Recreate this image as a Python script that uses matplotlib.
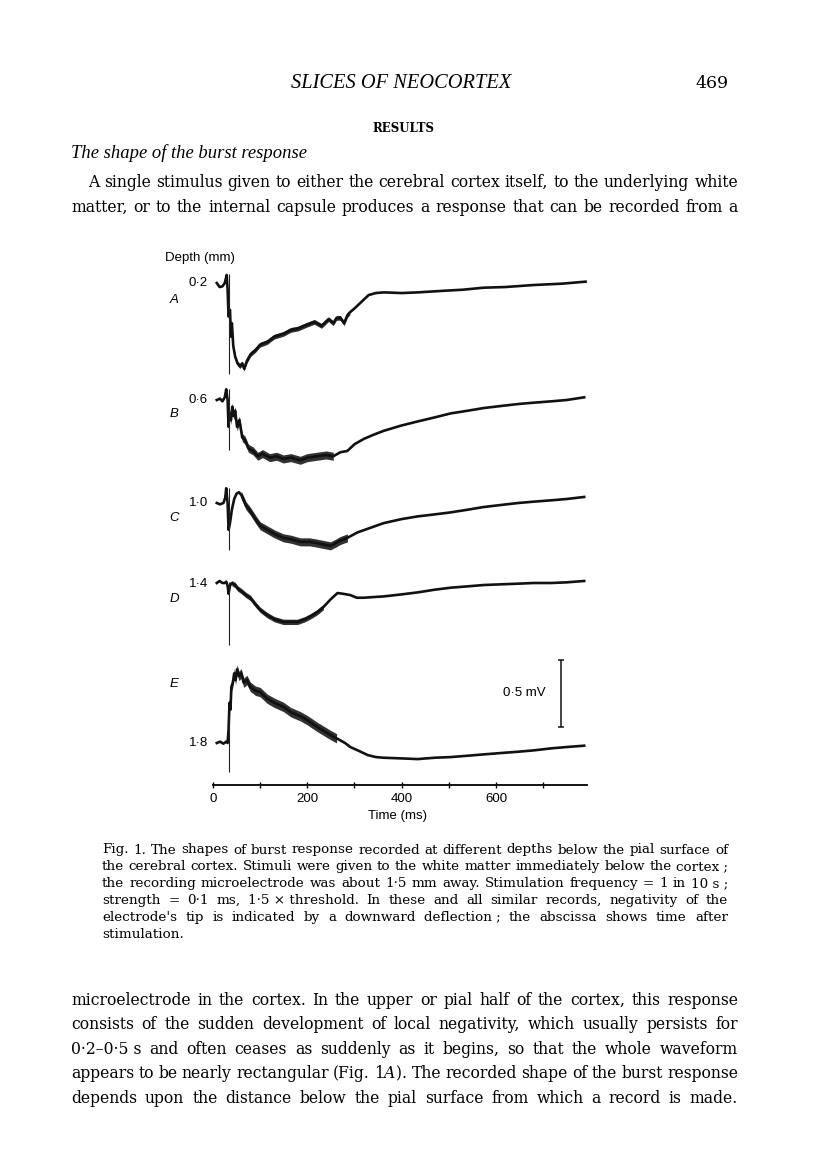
import numpy as np
import matplotlib
matplotlib.use("Agg")
import matplotlib.pyplot as plt

plt.rcParams['font.family'] = ['Liberation Sans', 'DejaVu Sans']
plt.rcParams['mathtext.fontset'] = 'custom'
plt.rcParams['mathtext.rm'] = 'DejaVu Serif'
plt.rcParams['mathtext.it'] = 'DejaVu Serif:italic'

# ---------------- data ----------------
depth_labels = ["0·2", "0·6", "1·0", "1·4", "1·8"]
trace_letters = ["A", "B", "C", "D", "E"]

t_A = [8, 14, 20, 25, 29, 31, 33, 36, 38, 40, 43, 47, 52, 57, 62, 66, 72, 80, 90, 100,
       115, 130, 149, 165, 180, 200, 215, 230, 245, 255, 262, 270, 278, 285, 290, 300,
       315, 330, 345, 362, 400, 434, 480, 530, 574, 620, 680, 740, 790]
v_A = [0.0, -0.03, -0.025, 0.0, 0.06, -0.05, -0.25, -0.2, -0.4, -0.3, -0.47, -0.55, -0.6,
       -0.62, -0.6, -0.64, -0.58, -0.53, -0.5, -0.46, -0.44, -0.4, -0.38, -0.35, -0.34,
       -0.31, -0.29, -0.32, -0.27, -0.3, -0.26, -0.26, -0.3, -0.24, -0.22, -0.19, -0.14,
       -0.09, -0.075, -0.07, -0.075, -0.07, -0.06, -0.05, -0.035, -0.03, -0.015, -0.005, 0.01]

t_B = [8, 15, 20, 25, 28, 31, 33, 35, 38, 41, 44, 47, 51, 56, 62, 68, 75, 85, 95, 105,
       120, 135, 149, 165, 185, 200, 220, 240, 255, 270, 285, 300, 320, 340, 362, 400,
       434, 470, 504, 540, 574, 610, 647, 680, 717, 750, 787]
v_B = [0.0, 0.01, -0.01, 0.02, 0.08, 0.0, -0.2, -0.1, -0.15, -0.05, -0.12, -0.08, -0.2,
       -0.15, -0.28, -0.3, -0.36, -0.38, -0.42, -0.4, -0.43, -0.42, -0.44, -0.43, -0.45,
       -0.43, -0.42, -0.41, -0.42, -0.39, -0.38, -0.33, -0.29, -0.26, -0.23, -0.19, -0.16,
       -0.13, -0.1, -0.08, -0.06, -0.045, -0.03, -0.02, -0.01, 0.0, 0.02]

t_C = [8, 15, 22, 26, 28, 31, 33, 36, 40, 45, 50, 55, 60, 65, 70, 79, 90, 100, 115, 130,
       149, 165, 185, 205, 221, 235, 249, 260, 270, 285, 306, 330, 362, 400, 434, 470,
       504, 540, 574, 610, 647, 680, 717, 750, 787]
v_C = [0.0, -0.01, 0.0, 0.04, 0.11, 0.0, -0.2, -0.15, -0.05, 0.03, 0.07, 0.08, 0.06,
       0.02, -0.02, -0.06, -0.12, -0.17, -0.2, -0.23, -0.26, -0.27, -0.29, -0.29, -0.3,
       -0.31, -0.32, -0.3, -0.28, -0.26, -0.22, -0.19, -0.15, -0.12, -0.1, -0.085, -0.07,
       -0.05, -0.03, -0.015, 0.0, 0.01, 0.02, 0.03, 0.045]

t_D = [8, 14, 20, 25, 28, 31, 33, 36, 40, 44, 47, 52, 60, 70, 79, 90, 100, 115, 130, 149,
       165, 179, 195, 206, 220, 234, 250, 264, 275, 291, 305, 319, 340, 362, 400, 434,
       470, 504, 540, 574, 610, 647, 680, 717, 750, 787]
v_D = [0.0, 0.015, 0.0, 0.0, 0.01, -0.02, -0.08, -0.02, 0.0, -0.01, -0.015, -0.04, -0.06,
       -0.09, -0.11, -0.16, -0.2, -0.24, -0.27, -0.29, -0.29, -0.29, -0.27, -0.25, -0.22,
       -0.18, -0.12, -0.075, -0.08, -0.09, -0.11, -0.11, -0.105, -0.1, -0.085, -0.07,
       -0.05, -0.035, -0.025, -0.015, -0.01, -0.005, 0.0, 0.0, 0.005, 0.015]

t_E = [8, 15, 22, 28, 31, 33, 35, 37, 39, 42, 45, 48, 51, 55, 60, 65, 72, 79, 90, 100,
       115, 130, 149, 165, 185, 200, 221, 235, 249, 262, 280, 291, 310, 328, 345, 362,
       400, 434, 470, 504, 540, 574, 610, 647, 680, 717, 750, 787]
v_E = [0.0, 0.01, -0.005, 0.01, 0.0, 0.1, 0.3, 0.25, 0.42, 0.45, 0.52, 0.47, 0.55, 0.5,
       0.52, 0.45, 0.47, 0.42, 0.39, 0.38, 0.33, 0.3, 0.27, 0.23, 0.2, 0.17, 0.12, 0.09,
       0.06, 0.035, 0.0, -0.03, -0.06, -0.09, -0.105, -0.11, -0.115, -0.12, -0.11, -0.105,
       -0.095, -0.085, -0.075, -0.065, -0.055, -0.04, -0.03, -0.02]

times = [t_A, t_B, t_C, t_D, t_E]
values = [v_A, v_B, v_C, v_D, v_E]

# noisy stretch of each record: start (ms), end (ms), half-width of the noise band (mV)
noise_start = [40, 35, 60, 40, 38]
noise_end = [290, 260, 285, 245, 262]
noise_half = [0.018, 0.03, 0.03, 0.02, 0.035]

# stimulus artefact (ms) and its extent (mV)
artefact_t = 33
artefact_lo = [-0.68, -0.37, -0.35, -0.46, -0.22]
artefact_hi = [0.07, 0.08, 0.11, 0.01, 0.2]

x_ticks = [0, 100, 200, 300, 400, 500, 600, 700]
x_ticklabels = ["0", "", "200", "", "400", "", "600", ""]

# ---------------- layout ----------------
W, H = 816, 1170
PX_PER_MV = 134.0
trace_base_px = [283, 400, 503, 583, 743]   # pixel rows of the baselines
axis_px = 785
top_px = 265

fig = plt.figure(figsize=(W / 100, H / 100), dpi=100)
fig.patch.set_facecolor("white")
renderer = fig.canvas.get_renderer()


def fx(px):
    return px / W


def fy(py):
    return 1 - py / H


ax = fig.add_axes([fx(213), fy(axis_px), 374 / W, (axis_px - top_px) / H])
ax.set_xlim(0, 793)
ax.set_ylim(0, (axis_px - top_px) / PX_PER_MV)
for s in ["left", "right", "top"]:
    ax.spines[s].set_visible(False)
ax.spines["bottom"].set_linewidth(1.3)
ax.set_yticks([])
ax.set_xticks(x_ticks)
ax.set_xticklabels(x_ticklabels)
ax.tick_params(axis="x", direction="inout", length=4, width=1.0, labelsize=9.5, pad=4)
ax.patch.set_alpha(0)

offsets = [(axis_px - b) / PX_PER_MV for b in trace_base_px]
for t, v, off, lo, hi, n0, n1, nh in zip(times, values, offsets, artefact_lo, artefact_hi,
                                          noise_start, noise_end, noise_half):
    t = np.array(t, float)
    y = np.array(v) + off
    m = (t >= n0) & (t <= n1)
    ax.fill_between(t[m], y[m] - nh, y[m] + nh, color="#1c1c1c", lw=0, alpha=0.9)
    ax.plot(t, y, color="#111111", lw=1.9, solid_joinstyle="round")
    ax.vlines(artefact_t, off + lo, off + hi, color="#222222", lw=0.8)

# 0.5 mV calibration bar
bar_t, bar_lo = 738, (axis_px - 727) / PX_PER_MV
ax.vlines(bar_t, bar_lo, bar_lo + 0.5, color="#111111", lw=1.1)
ax.hlines([bar_lo, bar_lo + 0.5], bar_t - 6, bar_t + 6, color="#111111", lw=1.1)
ax.text(bar_t - 32, bar_lo + 0.25, "0·5 mV", ha="right", va="center", fontsize=9.5,
        family="Liberation Sans")

fig.text(fx(398), fy(816), "Time (ms)", ha="center", va="center", fontsize=9.5)
fig.text(fx(165), fy(258), "Depth (mm)", ha="left", va="center", fontsize=9.5)

depth_px = [283, 400, 503, 584, 743]
letter_px = [300, 414, 518, 599, 684]
for lab, yp in zip(depth_labels, depth_px):
    fig.text(fx(208), fy(yp), lab, ha="right", va="center", fontsize=9.5)
for lab, yp in zip(trace_letters, letter_px):
    fig.text(fx(174), fy(yp), lab, ha="center", va="center", fontsize=9.5, style="italic")

# ---------------- page text ----------------
SERIF = "DejaVu Serif"
ITAL = "Liberation Serif"


def wpx(s, **kw):
    t = fig.text(0.5, 0.5, s, **kw)
    w = t.get_window_extent(renderer=renderer).width
    t.remove()
    return w


def natural(line, size, **kw):
    words = line.split(" ")
    ws = [wpx(w, fontsize=size, **kw) for w in words]
    sp = 0.318 * size * 100 / 72
    return ws, sp


def fit(lines, target, **kw):
    m = 0
    for l in lines:
        ws, sp = natural(l, 10, **kw)
        m = max(m, sum(ws) + sp * (len(ws) - 1))
    return 10 * target / m


def justify(line, x0, x1, y, size, last=False, **kw):
    ws, sp = natural(line, size, **kw)
    words = line.split(" ")
    if last or len(words) == 1:
        gap = sp
    else:
        gap = (x1 - x0 - sum(ws)) / (len(words) - 1)
    x = x0
    for w, ww in zip(words, ws):
        fig.text(fx(x), fy(y), w, fontsize=size, ha="left", va="baseline", **kw)
        x += ww + gap


hdr = "SLICES OF NEOCORTEX"
s_hdr = 10 * 220 / wpx(hdr, fontsize=10, family=ITAL, style="italic")
fig.text(fx(401), fy(88), hdr, ha="center", va="baseline", fontsize=s_hdr,
         family=ITAL, style="italic")
fig.text(fx(729), fy(88), "469", ha="right", va="baseline", fontsize=12.5, family=SERIF)
fig.text(fx(403), fy(132), "RESULTS", ha="center", va="baseline", fontsize=8.5,
         family=SERIF, weight="bold")
sub = "The shape of the burst response"
s_sub = 10 * 237 / wpx(sub, fontsize=10, family=ITAL, style="italic")
fig.text(fx(71), fy(158), sub, ha="left", va="baseline", fontsize=s_sub,
         family=ITAL, style="italic")

para1 = [
    "A single stimulus given to either the cerebral cortex itself, to the underlying white",
    "matter, or to the internal capsule produces a response that can be recorded from a",
]
para2 = [
    "microelectrode in the cortex. In the upper or pial half of the cortex, this response",
    "consists of the sudden development of local negativity, which usually persists for",
    "0·2–0·5\u00a0s and often ceases as suddenly as it begins, so that the whole waveform",
    "appears to be nearly rectangular (Fig. 1$A$). The recorded shape of the burst response",
    "depends upon the distance below the pial surface from which a record is made.",
]
fit_lines = [l for l in para2 + para1[1:] if "$" not in l]
s_body = fit(fit_lines, 667 * 0.99, family=SERIF)
justify(para1[0], 88, 738, 187, s_body, family=SERIF)
justify(para1[1], 71, 738, 211.5, s_body, family=SERIF)
for i, l in enumerate(para2):
    justify(l, 71, 738, 1005 + 24.4 * i, s_body, family=SERIF)

caption = [
    "Fig. 1. The shapes of burst response recorded at different depths below the pial surface of",
    "the cerebral cortex. Stimuli were given to the white matter immediately below the cortex\u00a0;",
    "the recording microelectrode was about 1·5 mm away. Stimulation frequency = 1 in 10\u00a0s\u00a0;",
    "strength = 0·1 ms, 1·5\u00a0×\u00a0threshold. In these and all similar records, negativity of the",
    "electrode's tip is indicated by a downward deflection\u00a0; the abscissa shows time after",
    "stimulation.",
]
s_cap = fit(caption[:5], 626 * 0.995, family=SERIF)
for i, l in enumerate(caption):
    justify(l, 102, 728, 853.5 + 16.8 * i, s_cap, last=(i == 5), family=SERIF)

fig.savefig("out.png", dpi=100, facecolor="white")
